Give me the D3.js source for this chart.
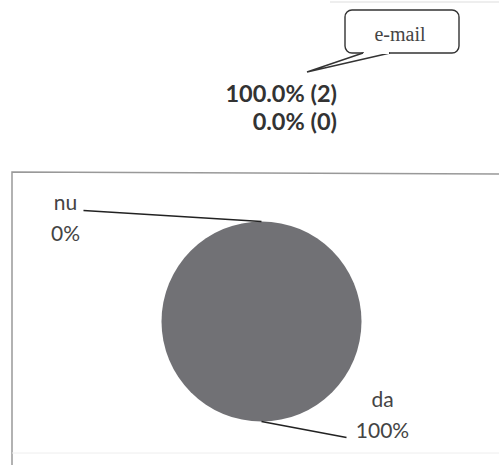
<!DOCTYPE html>
<html>
<head>
<meta charset="utf-8">
<script src="https://cdn.jsdelivr.net/npm/d3@7.9.0/dist/d3.min.js"></script>
<style>
  body { margin: 0; background: #fff; }
  svg { display: block; }
</style>
</head>
<body>
<svg id="chart" width="499" height="465"></svg>
<script>
// data
const categories = ['da', 'nu'];
const counts = [2, 0];
const calloutLabel = 'e-mail';
const summaryLines = ['100.0% (2)', '0.0% (0)'];

const svg = d3.select('#chart');
const font = 'Lato, "Open Sans", sans-serif';

// faint scan line at the top
svg.append('line')
  .attr('x1', 330).attr('y1', 2).attr('x2', 499).attr('y2', 2)
  .attr('stroke', '#ddd').attr('stroke-width', 1);

// callout bubble
const bub = { x: 345, y: 10, w: 114, h: 43 };
svg.append('rect')
  .attr('x', bub.x).attr('y', bub.y)
  .attr('width', bub.w).attr('height', bub.h)
  .attr('rx', 7)
  .attr('fill', '#fff').attr('stroke', '#333').attr('stroke-width', 1.4);
// tail
svg.append('path')
  .attr('d', `M363,${bub.y + bub.h} L307,72 L390,${bub.y + bub.h}`)
  .attr('fill', '#fff').attr('stroke', '#333').attr('stroke-width', 1.4);
svg.append('line')
  .attr('x1', 364).attr('y1', bub.y + bub.h).attr('x2', 389).attr('y2', bub.y + bub.h)
  .attr('stroke', '#fff').attr('stroke-width', 2);
svg.append('text')
  .attr('x', 400).attr('y', 41)
  .attr('text-anchor', 'middle')
  .attr('font-family', '"Liberation Serif", serif')
  .attr('font-size', 20)
  .attr('fill', '#444')
  .text(calloutLabel);

// summary lines
svg.selectAll('text.summary')
  .data(summaryLines)
  .join('text')
  .attr('class', 'summary')
  .attr('x', 337)
  .attr('y', (d, i) => 102 + i * 28)
  .attr('text-anchor', 'end')
  .attr('font-family', font)
  .attr('font-weight', 'bold')
  .attr('font-size', 23.5)
  .attr('fill', '#333')
  .text(d => d);

// chart frame
svg.append('path')
  .attr('d', 'M499,174 L12,172 L12,465')
  .attr('fill', 'none').attr('stroke', '#999').attr('stroke-width', 1.5);
svg.append('line')
  .attr('x1', 12).attr('y1', 453).attr('x2', 499).attr('y2', 453)
  .attr('stroke', '#eee').attr('stroke-width', 1);

// pie
const cx = 261.5, cy = 321.5, r = 100;
const data = categories.map((c, i) => ({ label: c, value: counts[i] }));
const total = d3.sum(counts);
const pie = d3.pie().sort(null).value(d => d.value);
const arc = d3.arc().innerRadius(0).outerRadius(r);
const arcs = pie(data);

const g = svg.append('g').attr('transform', `translate(${cx},${cy})`);
g.selectAll('path')
  .data(arcs)
  .join('path')
  .attr('d', arc)
  .attr('fill', '#717175');

// leader lines and labels
const labelPos = {
  da: { end: [85, 116], text: [121, 85] },
  nu: { end: [-178, -111], text: [-196, -112] }
};
const fmt = d3.format('.0%');
arcs.forEach(a => {
  const mid = (a.startAngle + a.endAngle) / 2;
  const sx = Math.sin(mid) * r, sy = -Math.cos(mid) * r;
  const p = labelPos[a.data.label];
  g.append('path')
    .attr('d', `M${sx},${sy} L${p.end[0]},${p.end[1]}`)
    .attr('fill', 'none').attr('stroke', '#222').attr('stroke-width', 1.6);
  const t = g.append('text')
    .attr('font-family', font)
    .attr('font-size', 21)
    .attr('fill', '#444')
    .attr('text-anchor', 'middle');
  t.append('tspan').attr('x', p.text[0]).attr('y', p.text[1]).text(a.data.label);
  t.append('tspan').attr('x', p.text[0]).attr('y', p.text[1] + 31).text(fmt(a.data.value / total));
});
</script>
</body>
</html>
